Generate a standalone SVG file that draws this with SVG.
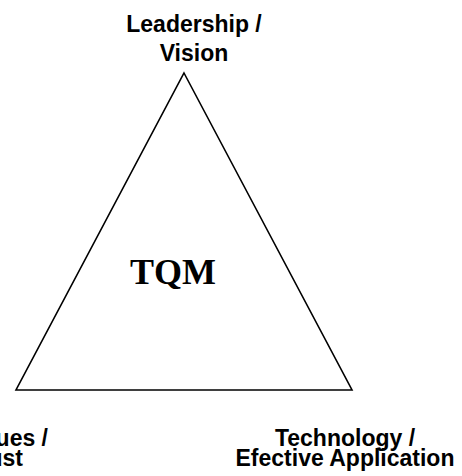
<svg xmlns="http://www.w3.org/2000/svg" width="462" height="476" viewBox="0 0 462 476">
  <style>
    .label { font-family: "Liberation Sans", Arial, sans-serif; font-weight: bold; font-size: 23px; fill: #000; }
    .center { font-family: "Liberation Serif", "Times New Roman", serif; font-weight: bold; font-size: 36px; fill: #000; }
    .edge { fill: none; stroke: #000; stroke-width: 1.6; stroke-linejoin: miter; }
  </style>
  <rect width="462" height="476" fill="#fff"/>
  <!-- outline of the triangle joining the three corners -->
  <g id="connectors">
    <polygon class="edge" points="184,73 352,390 16,390"/>
  </g>
  <g id="node-tqm">
    <text class="center" x="173" y="284" text-anchor="middle">TQM</text>
  </g>
  <g id="node-leadership">
    <text class="label" x="194" y="32" text-anchor="middle">Leadership /</text>
    <text class="label" x="194" y="61" text-anchor="middle">Vision</text>
  </g>
  <!-- this label runs past the left edge -->
  <g id="node-values">
    <text class="label" x="48" y="446" text-anchor="end">Values /</text>
    <text class="label" x="23" y="466" text-anchor="end">Trust</text>
  </g>
  <g id="node-technology">
    <text class="label" x="345" y="446" text-anchor="middle">Technology /</text>
    <text class="label" x="345" y="466" text-anchor="middle">Efective Application</text>
  </g>
</svg>
